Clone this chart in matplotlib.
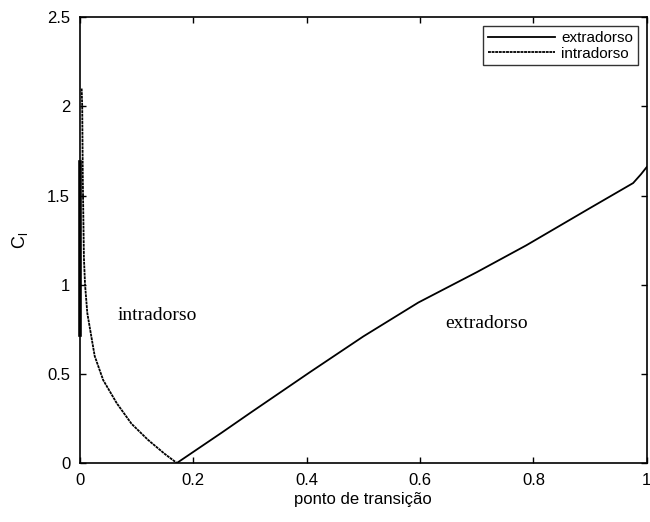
import numpy as np
import matplotlib
matplotlib.use("Agg")
import matplotlib.pyplot as plt

# extradorso (upper surface) transition curve
extra_x = [0.171, 0.25, 0.30, 0.406, 0.50, 0.597, 0.70, 0.787, 0.90, 0.976, 0.99, 1.0]
extra_y = [0.0, 0.17, 0.28, 0.51, 0.71, 0.90, 1.07, 1.22, 1.43, 1.57, 1.62, 1.66]
# extradorso segment lying on the left edge
extra_edge_x = [0.0, 0.0]
extra_edge_y = [0.72, 1.69]

# intradorso (lower surface) transition curve
intra_x = [0.003, 0.004, 0.005, 0.007, 0.009, 0.013, 0.026, 0.041, 0.065, 0.091, 0.12, 0.15, 0.171]
intra_y = [2.10, 2.00, 1.60, 1.15, 1.00, 0.84, 0.60, 0.465, 0.335, 0.22, 0.13, 0.05, 0.0]

xticks = [0, 0.2, 0.4, 0.6, 0.8, 1]
xticklabels = ["0", "0.2", "0.4", "0.6", "0.8", "1"]
yticks = [0, 0.5, 1, 1.5, 2, 2.5]
yticklabels = ["0", "0.5", "1", "1.5", "2", "2.5"]

plt.rcParams['font.family'] = ['Liberation Sans', 'DejaVu Sans']

fig = plt.figure(figsize=(6.5, 5.22), dpi=100)
ax = fig.add_axes([0.123, 0.113, 0.872, 0.854])

ax.plot(extra_x, extra_y, color='black', lw=1.3, label='extradorso')
ax.plot(extra_edge_x, extra_edge_y, color='black', lw=2.6, clip_on=False)
ax.plot(intra_x, intra_y, color='black', lw=1.3, linestyle=(0, (1.6, 0.4)), label='intradorso')

ax.set_xlim(0, 1)
ax.set_ylim(0, 2.5)
ax.set_xticks(xticks)
ax.set_xticklabels(xticklabels)
ax.set_yticks(yticks)
ax.set_yticklabels(yticklabels)
ax.tick_params(direction='in', top=True, right=True, length=4, width=1, labelsize=12, pad=7)
for s in ax.spines.values():
    s.set_linewidth(1.2)

ax.set_xlabel('ponto de transição', fontsize=12, labelpad=3)
ax.set_ylabel(r'C$_\mathregular{l}$', fontsize=13, labelpad=12)

ax.text(0.136, 0.83, 'intradorso', family='Liberation Serif', fontsize=14,
        ha='center', va='center')
ax.text(0.718, 0.785, 'extradorso', family='Liberation Serif', fontsize=14,
        ha='center', va='center')

leg = ax.legend(loc='upper right', fontsize=11, frameon=True, fancybox=False,
                edgecolor='black', handlelength=4.4, borderpad=0.3,
                labelspacing=0.1, borderaxespad=0.6, handletextpad=0.4)
leg.get_frame().set_linewidth(1.0)

fig.savefig('out.png', dpi=100)
